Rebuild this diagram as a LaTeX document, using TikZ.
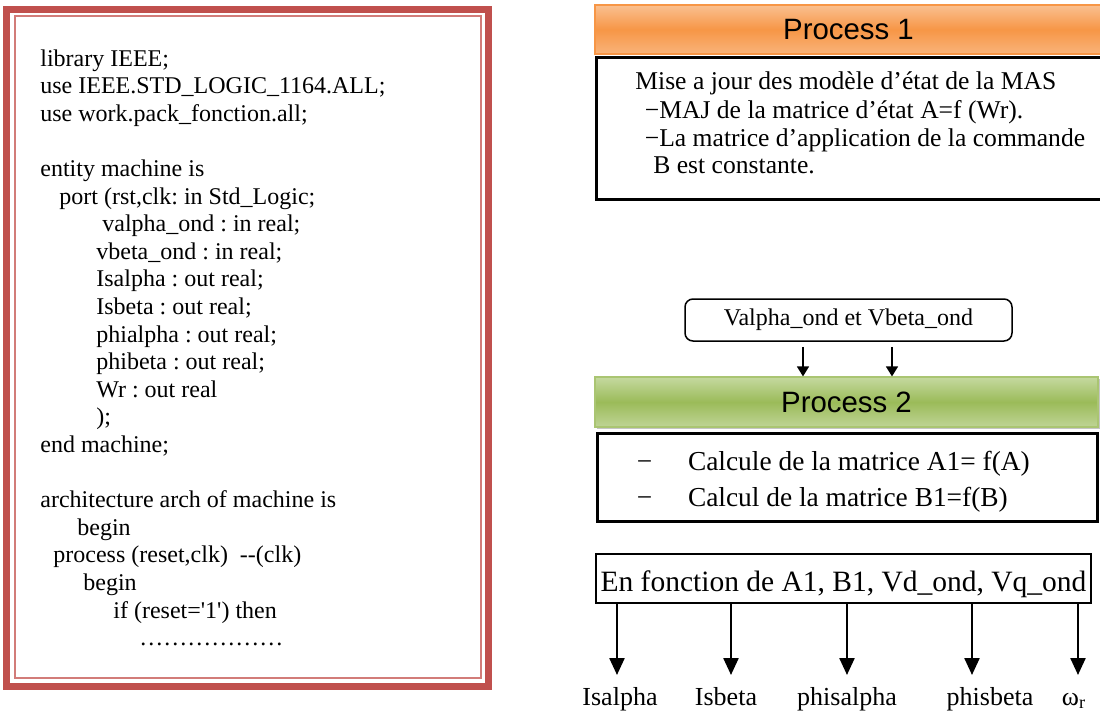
\documentclass[tikz,border=0pt]{standalone}
\usepackage{fontspec}
\setmainfont{Liberation Serif}
\newfontfamily\headfont{Liberation Sans}
\frenchspacing
\usetikzlibrary{arrows.meta}
\usetikzlibrary{shadows}
\definecolor{framered}{HTML}{C0504D}
\definecolor{framepink}{HTML}{D27C79}
\definecolor{orlight}{HTML}{FAC090}
\definecolor{ordark}{HTML}{F79646}
\definecolor{grlight}{HTML}{C5D9A0}
\definecolor{grdark}{HTML}{9BBB59}
\tikzset{
    code/.style={anchor=base west, inner sep=0pt, font=\fontsize{12}{14}\selectfont},
    bodyone/.style={anchor=base west, inner sep=0pt, font=\fontsize{12.8}{15}\selectfont},
    bodytwo/.style={anchor=base west, inner sep=0pt, font=\fontsize{13.7}{16}\selectfont},
    outlbl/.style={anchor=base, inner sep=0pt, font=\fontsize{13}{15}\selectfont},
    headbar/.style={inner sep=0pt, line width=0.6pt, font=\headfont\fontsize{14.7}{17}\selectfont},
    bodybox/.style={draw, line width=1.5pt, inner sep=0pt},
    inarr/.style={-{Triangle[width=6pt,length=5pt]}, line width=0.7pt},
    outarr/.style={-{Triangle[width=7.5pt,length=8.5pt]}, line width=1.2pt},
}

\begin{document}
\begin{tikzpicture}[x=0.5pt, y=-0.5pt]
    \useasboundingbox (0,0) rectangle (1100,714);
    % vhdl listing in its double frame
    \draw[framered, line width=3.5pt] (6.5,9.3) rectangle (488.5,686.5);
    \draw[framepink, line width=1.1pt] (14.7,16) rectangle (481.2,678);
    \foreach \n/\x/\t in {
        0/40/{library IEEE;},
        1/40/{use IEEE.STD\_LOGIC\_1164.ALL;},
        2/40/{use work.pack\_fonction.all;},
        4/40/{entity machine is},
        5/59/{port (rst,clk: in Std\_Logic;},
        6/102/{valpha\_ond : in real;},
        7/96/{vbeta\_ond : in real;},
        8/96/{Isalpha : out real;},
        9/96/{Isbeta : out real;},
        10/96/{phialpha : out real;},
        11/96/{phibeta : out real;},
        12/96/{Wr : out real},
        13/96/{);},
        14/40/{end machine;},
        16/40/{architecture arch of machine is},
        17/77/{begin},
        18/53/{process (reset,clk)\ \ -{}-(clk)},
        19/83/{begin},
        20/113/{if (reset=\textquotesingle1\textquotesingle) then},
        21/139/{………………}}
        \node[code] (v\n) at (\x, 66+27.6*\n) {\t};

    % process 1
    \node[headbar, draw=ordark, top color=orlight, bottom color=orlight!70!ordark, middle color=ordark,
        minimum width=253.5pt, minimum height=24.5pt] (p1h) at (848.5,29.5) {Process 1};
    \node[bodybox, minimum width=253.15pt, minimum height=71pt] (p1b) at (849.8,128.5) {};
    \node[bodyone] (m1) at (635,89) {Mise a jour des modèle d’état de la MAS};
    \node[bodyone] (m2) at (644.5,118) {−MAJ de la matrice d’état A=f (Wr).};
    \node[bodyone] (m3) at (644.5,146) {−La matrice d’application de la commande};
    \node[bodyone] (m4) at (653,173) {B est constante.};

    % inputs and process 2
    \node[draw, rounded corners=4pt, line width=0.75pt, inner sep=0pt, font=\fontsize{12}{14}\selectfont,
        minimum width=163.5pt, minimum height=21pt] (vin) at (848.5,320) {Valpha\_ond et Vbeta\_ond};
    \node[headbar, draw=grdark!85, top color=grlight, bottom color=grlight!85!grdark, middle color=grdark,
        drop shadow={shadow xshift=1pt, shadow yshift=-1pt, fill=black!45, opacity=0.5},
        minimum width=251.5pt, minimum height=25pt] (p2h) at (846.5,402) {Process 2};
    \coordinate (ia) at (803,0);
    \coordinate (ib) at (892,0);
    \draw[inarr, shorten <=2.5pt] (vin.south -| ia) -- (p2h.north -| ia);
    \draw[inarr, shorten <=2.5pt] (vin.south -| ib) -- (p2h.north -| ib);
    \node[bodybox, minimum width=250pt, minimum height=44pt] (p2b) at (847.5,477.5) {};
    \node[bodytwo] (d1) at (636.5,470) {−};
    \node[bodytwo] (d2) at (636.5,506) {−};
    \node[bodytwo] (c1) at (687.6,470) {Calcule de la matrice A1= f(A)};
    \node[bodytwo] (c2) at (687.6,506) {Calcul de la matrice B1=f(B)};

    % outputs
    \node[draw, line width=0.6pt, inner sep=0pt, text height=17pt, text depth=4.5pt,
        font=\fontsize{14.75}{17}\selectfont, minimum width=247.5pt, minimum height=24.5pt]
        (fn) at (843.5,578.5) {En fonction de A1, B1, Vd\_ond, Vq\_ond};
    \foreach \n/\ax/\lx/\t in {1/617/620/Isalpha, 2/731/726/Isbeta, 3/847/847/phisalpha,
        4/972/990/phisbeta, 5/1078/1074/{ω\textsubscript{r}}} {
        \coordinate (t\n) at (\ax,675);
        \node[outlbl] (o\n) at (\lx,705) {\t};
        \draw[outarr] (fn.south -| t\n) -- (t\n);
    }
\end{tikzpicture}
\end{document}
